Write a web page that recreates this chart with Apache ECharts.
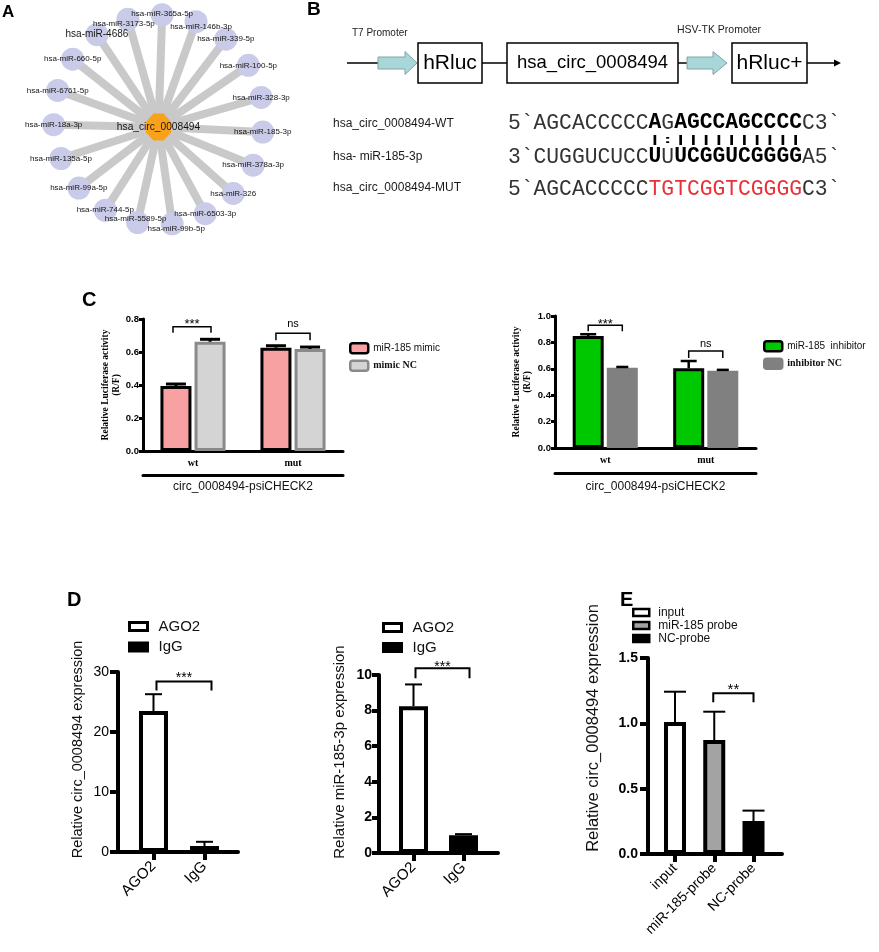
<!DOCTYPE html>
<html><head><meta charset="utf-8">
<script src="https://cdn.jsdelivr.net/npm/echarts@6/dist/echarts.min.js"></script>
<style>html,body{margin:0;padding:0;background:#fff}#c{width:879px;height:952px}</style>
</head><body><div id="c"></div>
<script>
// ===== DATA =====
const circName = 'hsa_circ_0008494';
const mirnas = ['hsa-miR-365a-5p','hsa-miR-146b-3p','hsa-miR-339-5p','hsa-miR-100-5p','hsa-miR-328-3p','hsa-miR-185-3p','hsa-miR-378a-3p','hsa-miR-326','hsa-miR-6503-3p','hsa-miR-99b-5p','hsa-miR-5589-5p','hsa-miR-744-5p','hsa-miR-99a-5p','hsa-miR-135a-5p','hsa-miR-18a-3p','hsa-miR-6761-5p','hsa-miR-660-5p','hsa-miR-4686','hsa-miR-3173-5p'];

const constructParts = ['hRluc','hsa_circ_0008494','hRluc+'];
const promoters = ['T7 Promoter','HSV-TK Promoter'];
const seqLabels = ['hsa_circ_0008494-WT','hsa- miR-185-3p','hsa_circ_0008494-MUT'];
const seqWT  = [['n','5`AGCACCCCC'],['b','A'],['n','G'],['b','AGCCAGCCCC'],['n','C3`']];
const seqMiR = [['n','3`CUGGUCUCC'],['b','U'],['n','U'],['b','UCGGUCGGGG'],['n','A5`']];
const seqMUT = [['n','5`AGCACCCCC'],['r','TGTCGGTCGGGG'],['n','C3`']];
const pairing = '           |:||||||||||';

const lucCats = ['wt','mut'];
const lucGroup = 'circ_0008494-psiCHECK2';
const mimicVals   = [0.394, 0.626];
const mimicErr    = [0.012, 0.012];
const mimicNCVals = [0.662, 0.618];
const mimicNCErr  = [0.015, 0.012];
const mimicSig    = ['***','ns'];
const inhibVals   = [0.848, 0.604];
const inhibErr    = [0.014, 0.055];
const inhibNCVals = [0.608, 0.586];
const inhibNCErr  = [0.006, 0.006];
const inhibSig    = ['***','ns'];

const ripCats = ['AGO2','IgG'];
const ripCircVals = [23.5, 1.0];
const ripCircErr  = [2.8, 0.7];
const ripMirVals  = [8.25, 1.0];
const ripMirErr   = [1.22, 0.06];
const ripSig = '***';

const pullCats   = ['input','miR-185-probe','NC-probe'];
const pullLegend = ['input','miR-185 probe','NC-probe'];
const pullVals   = [1.01, 0.872, 0.252];
const pullErr    = [0.232, 0.217, 0.08];
const pullSig = '**';

// ===== STYLE =====
const ARIAL = "'Liberation Sans', Arial, Helvetica, sans-serif";
const TIMES = "'Liberation Serif', 'Times New Roman', serif";
const MONO  = "'Liberation Mono', 'Courier New', monospace";

function errSeries(xi, yi, xs, vals, errs, dx, cap, lw, color) {
  return {type:'custom', xAxisIndex:xi, yAxisIndex:yi, z:5, silent:true,
    encode:{x:0, y:[1,2]},
    data: vals.map((v,i)=>[xs[i], v, v+errs[i]]),
    renderItem(params, api){
      const b = api.coord([api.value(0), api.value(1)]);
      const t = api.coord([api.value(0), api.value(2)]);
      const x = b[0]+dx;
      return {type:'group', children:[
        {type:'line', shape:{x1:x,y1:b[1],x2:x,y2:t[1]}, style:{stroke:color,lineWidth:lw}},
        {type:'line', shape:{x1:x-cap/2,y1:t[1],x2:x+cap/2,y2:t[1]}, style:{stroke:color,lineWidth:lw}}
      ]};
    }};
}
// brackets: each [x1, x2, yLevel, label, dx1, dx2, tick, fontSize, textOffset]
function sigSeries(xi, yi, items, lw) {
  return {type:'custom', xAxisIndex:xi, yAxisIndex:yi, z:6, silent:true,
    encode:{x:[0,1], y:2},
    data: items.map(d=>[d[0], d[1], d[2]]),
    renderItem(params, api){
      const it = items[params.dataIndex];
      const p1 = api.coord([api.value(0), api.value(2)]);
      const p2 = api.coord([api.value(1), api.value(2)]);
      const x1 = p1[0]+it[4], x2 = p2[0]+it[5], y = p1[1];
      return {type:'group', children:[
        {type:'polyline', shape:{points:[[x1,y+it[6]],[x1,y],[x2,y],[x2,y+it[6]]]}, style:{stroke:'#000', lineWidth:lw, fill:null}},
        {type:'text', x:(x1+x2)/2, y:y-it[8], style:{text:it[3], fill:'#000', font: it[7]+'px '+ARIAL, align:'center', textAlign:'center', verticalAlign:'middle', textVerticalAlign:'middle'}}
      ]};
    }};
}

// ===== PANEL A graph =====
const OCT = 'path://M3,0 L7,0 L10,3 L10,7 L7,10 L3,10 L0,7 L0,3 Z';
const N = mirnas.length;
const HUB_DY = 0.07;           // hub sits slightly below the ring centre
const labelNudge = {'hsa-miR-99b-5p':[4,5], 'hsa-miR-5589-5p':[-2,-4], 'hsa-miR-3173-5p':[-4,5], 'hsa-miR-146b-3p':[5,5], 'hsa-miR-365a-5p':[0,-1]};
const graphNodes = [{name: circName, value:[0,HUB_DY], symbol: OCT, symbolSize:[25,27], itemStyle:{color:'#f8a21c'}, label:{fontSize:10.2}}]
  .concat(mirnas.map((m,i)=>{
    const a = (-88 + i*360/N) * Math.PI/180;
    const lab = {fontSize: m==='hsa-miR-4686' ? 10 : 8};
    if (labelNudge[m]) lab.offset = labelNudge[m];
    return {name:m, value:[Math.cos(a), Math.sin(a)], label:lab};
  }));
const graphLinks = mirnas.map((m,i)=>({source:0, target:i+1}));

// ===== C offsets =====
const C_BW = 31, C_GAP = 0.1;
const cOff = C_BW*(1+C_GAP)/2;

const series = [
  {type:'graph', coordinateSystem:'cartesian2d', xAxisIndex:0, yAxisIndex:0, layout:'none',
   symbol:'circle', symbolSize:23, itemStyle:{color:'#c9cbe8'},
   label:{show:true, position:'inside', color:'#141414', fontFamily:ARIAL},
   lineStyle:{color:'#c9c9c9', width:8, opacity:1, curveness:0},
   emphasis:{disabled:true}, silent:true,
   data: graphNodes, links: graphLinks, z:2},

  // C left
  {type:'bar', name:'miR-185 mimic', xAxisIndex:1, yAxisIndex:1, data:mimicVals, barWidth:C_BW, barGap:(C_GAP*100)+'%',
   itemStyle:{color:'#f7a1a3', borderColor:'#000', borderWidth:3}},
  {type:'bar', name:'mimic NC', xAxisIndex:1, yAxisIndex:1, data:mimicNCVals, barWidth:C_BW, barGap:(C_GAP*100)+'%',
   itemStyle:{color:'#d4d4d4', borderColor:'#8a8a8a', borderWidth:3}},
  errSeries(1,1,[0,1],mimicVals,mimicErr,-cOff,20,3,'#000'),
  errSeries(1,1,[0,1],mimicNCVals,mimicNCErr,cOff,20,3,'#000'),
  sigSeries(1,1,[[0,0,0.753,mimicSig[0],-20,18,6,13,2],[1,1,0.713,mimicSig[1],-cOff,cOff,7,11,9]],1.5),

  // C right
  {type:'bar', name:'miR-185  inhibitor', xAxisIndex:3, yAxisIndex:2, data:inhibVals, barWidth:C_BW, barGap:(C_GAP*100)+'%',
   itemStyle:{color:'#00c800', borderColor:'#000', borderWidth:3}},
  {type:'bar', name:'inhibitor NC', xAxisIndex:3, yAxisIndex:2, data:inhibNCVals, barWidth:C_BW, barGap:(C_GAP*100)+'%',
   itemStyle:{color:'#808080', borderColor:'#808080', borderWidth:3}},
  errSeries(3,2,[0,1],inhibVals,inhibErr,-cOff,16,2.5,'#000'),
  errSeries(3,2,[0,1],inhibNCVals,inhibNCErr,cOff,12,2.5,'#000'),
  sigSeries(3,2,[[0,0,0.93,inhibSig[0],-cOff,cOff,6,13,1],[1,1,0.735,inhibSig[1],-cOff,cOff,7,11,7]],1.5),

  // D left
  {type:'bar', name:'AGO2', xAxisIndex:5, yAxisIndex:3, data:[[0, ripCircVals[0]]], barWidth:29, barGap:'-100%',
   itemStyle:{color:'#fff', borderColor:'#000', borderWidth:4}},
  {type:'bar', name:'IgG', xAxisIndex:5, yAxisIndex:3, data:[[1, ripCircVals[1]]], barWidth:29, barGap:'-100%',
   itemStyle:{color:'#000', borderColor:'#000', borderWidth:4}},
  errSeries(5,3,[0,1],ripCircVals,ripCircErr,0,17,2,'#000'),
  sigSeries(5,3,[[0,1,28.4,ripSig,3,7,9,14,3]],2),

  // D middle
  {type:'bar', name:'AGO2', xAxisIndex:6, yAxisIndex:4, data:[[0, ripMirVals[0]]], barWidth:29, barGap:'-100%',
   itemStyle:{color:'#fff', borderColor:'#000', borderWidth:4}},
  {type:'bar', name:'IgG', xAxisIndex:6, yAxisIndex:4, data:[[1, ripMirVals[1]]], barWidth:29, barGap:'-100%',
   itemStyle:{color:'#000', borderColor:'#000', borderWidth:4}},
  errSeries(6,4,[0,1],ripMirVals,ripMirErr,0,17,2,'#000'),
  sigSeries(6,4,[[0,1,10.38,ripSig,2,6,10,14,1.5]],2),

  // E
  {type:'bar', name:pullLegend[0], xAxisIndex:7, yAxisIndex:5, data:[[0, pullVals[0]]], barWidth:22, barGap:'-100%',
   itemStyle:{color:'#fff', borderColor:'#000', borderWidth:4}},
  {type:'bar', name:pullLegend[1], xAxisIndex:7, yAxisIndex:5, data:[[1, pullVals[1]]], barWidth:22, barGap:'-100%',
   itemStyle:{color:'#a3a3a3', borderColor:'#000', borderWidth:4}},
  {type:'bar', name:pullLegend[2], xAxisIndex:7, yAxisIndex:5, data:[[2, pullVals[2]]], barWidth:22, barGap:'-100%',
   itemStyle:{color:'#000', borderColor:'#000', borderWidth:4}},
  errSeries(7,5,[0,1,2],pullVals,pullErr,0,22,2,'#000'),
  sigSeries(7,5,[[1,2,1.23,pullSig,-1,0,9,15,3.5]],2)
];

function yVal(grid, max, interval, fmt, lw, tickLen, font, margin, name, nameStyle, nameGap) {
  return {gridIndex:grid, type:'value', min:0, max:max, interval:interval,
    splitLine:{show:false},
    axisLine:{show:true, onZero:false, lineStyle:{color:'#000', width:lw}},
    axisTick:{show:true, length:tickLen, lineStyle:{color:'#000', width:lw}},
    axisLabel:Object.assign({formatter:fmt, color:'#000', margin:margin}, font),
    name:name, nameLocation:'middle', nameRotate:90, nameGap:nameGap, nameTextStyle:nameStyle};
}
function xValCat(grid, min, max, cats, lw, font, margin) {
  const idx = cats.map((c,i)=>i);
  return {gridIndex:grid, type:'value', min:min, max:max, splitLine:{show:false},
    axisLine:{show:true, onZero:false, lineStyle:{color:'#000', width:lw}},
    axisTick:{show:true, length:8, customValues:idx, lineStyle:{color:'#000', width:lw}},
    axisLabel:Object.assign({customValues:idx, formatter:v=>cats[Math.round(v)], rotate:45, margin:margin, color:'#000'}, font)};
}

const xAxis = [
  {gridIndex:0, type:'value', min:-1, max:1, show:false},
  {gridIndex:1, type:'category', data:lucCats, axisLine:{onZero:false, lineStyle:{color:'#000', width:3}}, axisTick:{show:false},
   axisLabel:{margin:7, fontFamily:TIMES, fontWeight:'bold', fontSize:10, color:'#000'}},
  {gridIndex:1, type:'category', data:lucCats, position:'bottom', offset:24, axisLine:{onZero:false, lineStyle:{color:'#000', width:3}},
   axisTick:{show:false}, axisLabel:{show:false}, name:lucGroup, nameLocation:'middle', nameGap:6,
   nameTextStyle:{fontFamily:ARIAL, fontSize:12, color:'#111'}},
  {gridIndex:2, type:'category', data:lucCats, axisLine:{onZero:false, lineStyle:{color:'#000', width:3}}, axisTick:{show:false},
   axisLabel:{margin:7, fontFamily:TIMES, fontWeight:'bold', fontSize:10, color:'#000'}},
  {gridIndex:2, type:'category', data:lucCats, position:'bottom', offset:25, axisLine:{onZero:false, lineStyle:{color:'#000', width:3}},
   axisTick:{show:false}, axisLabel:{show:false}, name:lucGroup, nameLocation:'middle', nameGap:8,
   nameTextStyle:{fontFamily:ARIAL, fontSize:12, color:'#111'}},
  xValCat(3, -0.696, 1.657, ripCats, 4, {fontFamily:ARIAL, fontSize:15}, 12),
  xValCat(4, -0.69, 1.69, ripCats, 4, {fontFamily:ARIAL, fontSize:15}, 12),
  xValCat(5, -0.688, 2.726, pullCats, 4, {fontFamily:ARIAL, fontSize:14}, 12)
];

const yAxis = [
  {gridIndex:0, type:'value', min:-1, max:1, inverse:true, show:false},
  yVal(1, 0.8, 0.2, v=>v.toFixed(1), 3, 4, {fontFamily:ARIAL, fontWeight:'bold', fontSize:9.5}, 4,
       'Relative Luciferase activity\n(R/F)', {fontFamily:TIMES, fontWeight:'bold', fontSize:9.5, color:'#000', lineHeight:11}, 21),
  yVal(2, 1.0, 0.2, v=>v.toFixed(1), 3, 4, {fontFamily:ARIAL, fontWeight:'bold', fontSize:9.5}, 4,
       'Relative Luciferase activity\n(R/F)', {fontFamily:TIMES, fontWeight:'bold', fontSize:9.5, color:'#000', lineHeight:11}, 22),
  yVal(3, 30, 10, v=>String(v), 4, 8, {fontFamily:ARIAL, fontSize:14}, 9,
       'Relative circ_0008494 expression', {fontFamily:ARIAL, fontSize:14.5, color:'#111', padding:[0,0,0,25]}, 33),
  yVal(4, 10, 2, v=>String(v), 4, 7, {fontFamily:ARIAL, fontWeight:'bold', fontSize:14}, 7,
       'Relative miR-185-3p expression', {fontFamily:ARIAL, fontSize:15, color:'#111', padding:[0,0,0,24]}, 32),
  yVal(5, 1.5, 0.5, v=>v.toFixed(1), 4, 8, {fontFamily:ARIAL, fontWeight:'bold', fontSize:14}, 10,
       'Relative circ_0008494 expression', {fontFamily:ARIAL, fontSize:16.5, color:'#111', padding:[0,0,0,56]}, 46)
];

const grid = [
  {left:53.5, top:14.7, width:210, height:210},
  {left:143, top:319, width:200, height:132},
  {left:555, top:316, width:201, height:132},
  {left:118, top:672, width:120, height:180},
  {left:379, top:675, width:119, height:178},
  {left:648, top:658, width:134, height:196}
];

function lgItem(name, color, border, bw, textStyle) {
  return {name, itemStyle:{color, borderColor:border, borderWidth:bw}, textStyle};
}
const legend = [
  {left:349, top:342, orient:'vertical', padding:0, itemWidth:18, itemHeight:10, itemGap:5, icon:'roundRect', selectedMode:false,
   data:[lgItem('miR-185 mimic','#f7a1a3','#000',2.5,{fontFamily:ARIAL, fontSize:10, color:'#111', lineHeight:10}),
         lgItem('mimic NC','#d4d4d4','#8a8a8a',2.5,{fontFamily:TIMES, fontWeight:'bold', fontSize:10, color:'#111', lineHeight:10})]},
  {left:763, top:340, orient:'vertical', padding:0, itemWidth:18, itemHeight:10, itemGap:5, icon:'roundRect', selectedMode:false,
   data:[lgItem('miR-185  inhibitor','#00c800','#000',2.5,{fontFamily:ARIAL, fontSize:10, color:'#111', lineHeight:10}),
         lgItem('inhibitor NC','#808080','#808080',2.5,{fontFamily:TIMES, fontWeight:'bold', fontSize:10, color:'#111', lineHeight:10})]},
  {left:128, top:619, orient:'vertical', padding:0, itemWidth:18, itemHeight:8, itemGap:5.6, icon:'rect', selectedMode:false,
   data:[lgItem('AGO2','#fff','#000',3,{fontFamily:ARIAL, fontSize:15, color:'#111', lineHeight:15, padding:[0,0,0,6]}),
         lgItem('IgG','#000','#000',3,{fontFamily:ARIAL, fontSize:15, color:'#111', lineHeight:15, padding:[0,0,0,6]})]},
  {left:382, top:620, orient:'vertical', padding:0, itemWidth:18, itemHeight:8, itemGap:5, icon:'rect', selectedMode:false,
   data:[lgItem('AGO2','#fff','#000',3,{fontFamily:ARIAL, fontSize:15, color:'#111', lineHeight:15, padding:[0,0,0,6]}),
         lgItem('IgG','#000','#000',3,{fontFamily:ARIAL, fontSize:15, color:'#111', lineHeight:15, padding:[0,0,0,6]})]},
  {left:632, top:606.5, orient:'vertical', padding:0, itemWidth:16, itemHeight:7, itemGap:1, icon:'rect', selectedMode:false,
   data:[lgItem(pullLegend[0],'#fff','#000',2.5,{fontFamily:ARIAL, fontSize:12, color:'#111', lineHeight:12, padding:[0,0,0,4]}),
         lgItem(pullLegend[1],'#a3a3a3','#000',2.5,{fontFamily:ARIAL, fontSize:12, color:'#111', lineHeight:12, padding:[0,0,0,4]}),
         lgItem(pullLegend[2],'#000','#000',2.5,{fontFamily:ARIAL, fontSize:12, color:'#111', lineHeight:12, padding:[0,0,0,4]})]}
];

// ===== graphic: panel letters, schematic, sequences =====
const G = [];
function T(x, y, text, font, extra) {
  G.push({type:'text', x, y, z:10, silent:true,
    style:Object.assign({text, font, fill:'#000', align:'left', textAlign:'left', verticalAlign:'middle', textVerticalAlign:'middle'}, extra||{})});
}
T(2, 12, 'A', 'bold 17px '+ARIAL);
T(307, 10, 'B', 'bold 19px '+ARIAL);
T(82, 300, 'C', 'bold 20px '+ARIAL);
T(67, 600, 'D', 'bold 20px '+ARIAL);
T(620, 600, 'E', 'bold 20px '+ARIAL);

// schematic
const LW = 1.5, CY = 63;
function L(x1,y1,x2,y2,w){ G.push({type:'line', silent:true, shape:{x1,y1,x2,y2}, style:{stroke:'#000', lineWidth:w||LW}}); }
function R(x,y,w,h){ G.push({type:'rect', silent:true, shape:{x,y,width:w,height:h}, style:{stroke:'#000', fill:'#fff', lineWidth:LW}}); }
function ARW(x0, xh, x1){ G.push({type:'polygon', silent:true, shape:{points:[[x0,CY-6],[xh,CY-6],[xh,CY-11.5],[x1,CY],[xh,CY+11.5],[xh,CY+6],[x0,CY+6]]}, style:{fill:'#a9d6d9', stroke:'#7fa6a8', lineWidth:1}}); }
L(347,CY,378,CY);
ARW(378,405,417);
R(418,43,64,40);
L(482,CY,507,CY);
R(507,43,171,40);
L(678,CY,687,CY);
ARW(687,713,727);
R(732,43,75,40);
L(807,CY,835,CY);
G.push({type:'polygon', silent:true, shape:{points:[[834,CY-3.5],[841,CY],[834,CY+3.5]]}, style:{fill:'#000'}});
T(450, CY, constructParts[0], '21px '+ARIAL, {align:'center', textAlign:'center'});
T(592.5, CY, constructParts[1], '18.5px '+ARIAL, {align:'center', textAlign:'center'});
T(769.5, CY, constructParts[2], '21px '+ARIAL, {align:'center', textAlign:'center'});
T(352, 33, promoters[0], '10px '+ARIAL, {fill:'#222'});
T(677, 30, promoters[1], '10.5px '+ARIAL, {fill:'#222'});

// sequences
T(333, 124, seqLabels[0], '12px '+ARIAL, {fill:'#1a1a1a'});
T(333, 157, seqLabels[1], '12px '+ARIAL, {fill:'#1a1a1a'});
T(333, 188, seqLabels[2], '12px '+ARIAL, {fill:'#1a1a1a'});
const SEQFS = 21.3;
const richSeq = {
  n:{fontFamily:MONO, fontSize:SEQFS, fill:'#333'},
  b:{fontFamily:MONO, fontSize:SEQFS, fontWeight:'bold', fill:'#000'},
  r:{fontFamily:MONO, fontSize:SEQFS, fill:'#ea2f36'}
};
function seqText(y, segs){
  G.push({type:'text', x:508, y, z:10, silent:true,
    style:{text: segs.map(s=>'{'+s[0]+'|'+s[1]+'}').join(''), rich:richSeq, align:'left', textAlign:'left', verticalAlign:'middle', textVerticalAlign:'middle'}});
}
seqText(123, seqWT);
seqText(157, seqMiR);
seqText(189, seqMUT);
G.push({type:'text', x:508, y:140, z:10, silent:true, scaleY:0.55, originY:0,
  style:{text:pairing, font:'bold '+SEQFS+'px '+MONO, fill:'#000', align:'left', textAlign:'left', verticalAlign:'middle', textVerticalAlign:'middle'}});

const chart = echarts.init(document.getElementById('c'), null, {renderer:'canvas', width:879, height:952});
chart.setOption({
  backgroundColor:'#fff',
  animation:false,
  textStyle:{fontFamily:ARIAL},
  grid, xAxis, yAxis, legend, series,
  graphic:{elements:G}
});
</script>
</body></html>
